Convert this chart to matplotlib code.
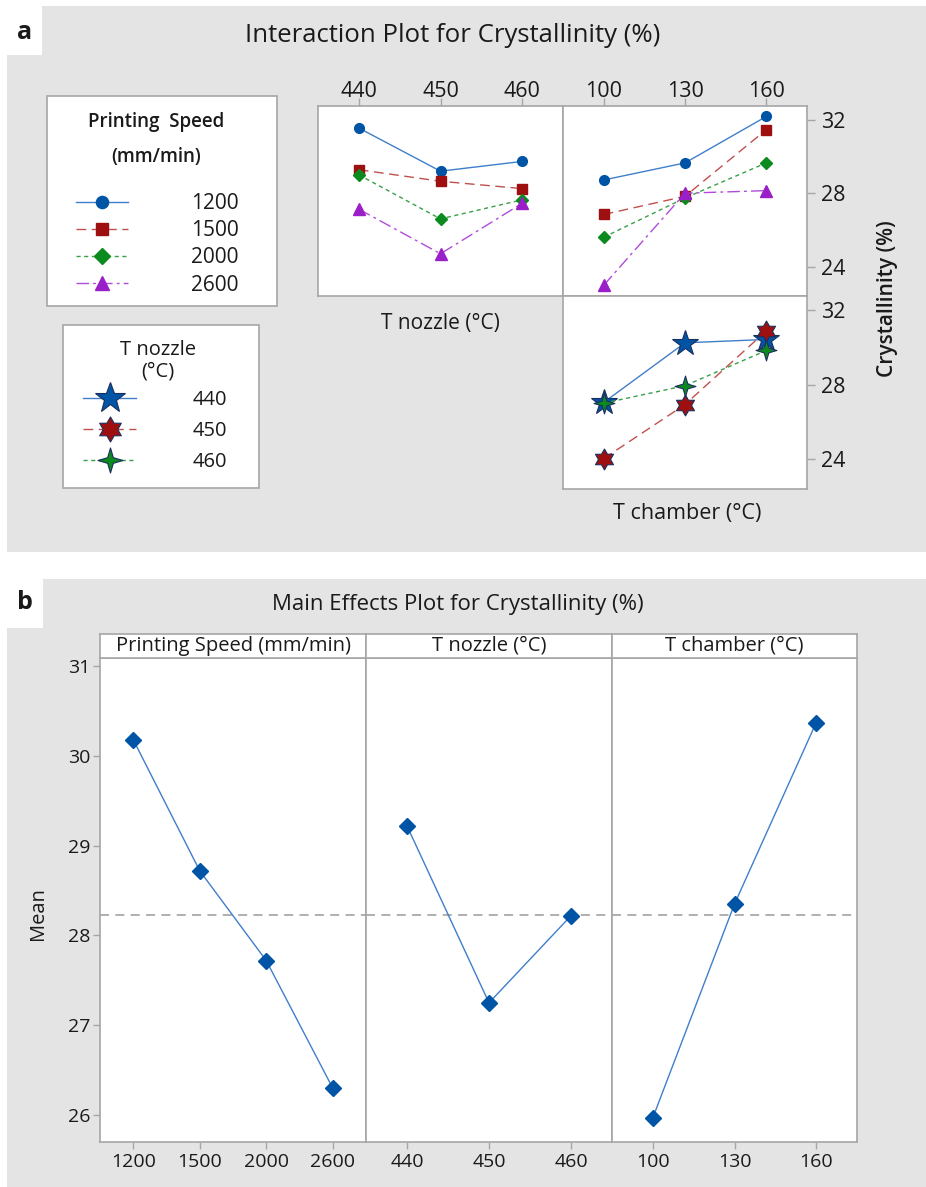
import matplotlib
matplotlib.use("Agg")
import matplotlib.pyplot as plt
from matplotlib.patches import Rectangle
from matplotlib.path import Path
import numpy as np

plt.rcParams['font.family'] = ['Open Sans', 'DejaVu Sans']

# ---- data -------------------------------------------------------------
speed_levels = ["1200", "1500", "2000", "2600"]
nozzle_levels = ["440", "450", "460"]
chamber_levels = ["100", "130", "160"]

# interaction: crystallinity (%) vs T nozzle, one series per printing speed
speed_vs_nozzle = [
    [31.55, 29.20, 29.73],   # 1200
    [29.28, 28.65, 28.25],   # 1500
    [29.00, 26.60, 27.64],   # 2000
    [27.13, 24.70, 27.45],   # 2600
]
# interaction: crystallinity (%) vs T chamber, one series per printing speed
speed_vs_chamber = [
    [28.72, 29.65, 32.18],
    [26.84, 27.83, 31.46],
    [25.60, 27.74, 29.65],
    [22.98, 28.00, 28.14],
]
# interaction: crystallinity (%) vs T chamber, one series per T nozzle
nozzle_vs_chamber = [
    [27.04, 30.24, 30.42],   # 440
    [24.03, 26.93, 30.88],   # 450
    [27.00, 27.94, 29.83],   # 460
]

# main effects (means)
mean_speed = [30.18, 28.72, 27.72, 26.30]
mean_nozzle = [29.22, 27.25, 28.22]
mean_chamber = [25.97, 28.35, 30.37]

# ---- styles -----------------------------------------------------------
W, H = 926, 1187
BG = "#e4e4e4"
SPINE = "#a6a6a6"
TXT = "#1a1a1a"

speed_styles = [
    dict(color="#3f7fca", mfc="#0054a6", mec="#0054a6", marker="o", ms=7, ls="-"),
    dict(color="#c0504d", mfc="#9e1010", mec="#9e1010", marker="s", ms=7, ls=(0, (7, 4))),
    dict(color="#38a048", mfc="#0b8a1e", mec="#0b8a1e", marker="D", ms=6.3, ls=(0, (3, 2.5))),
    dict(color="#b24bd8", mfc="#9a1fc8", mec="#9a1fc8", marker="^", ms=8, ls=(0, (9, 3, 2, 3))),
]
hexagram = Path.unit_regular_star(6, 0.58)
four_star = Path.unit_regular_star(4, 0.32)
nozzle_styles = [
    dict(color="#3f7fca", mfc="#0054a6", mec="#1b2f5e", marker="*", ms=19, ls="-"),
    dict(color="#c0504d", mfc="#9e1010", mec="#1b2f5e", marker=hexagram, ms=15, ls=(0, (7, 4))),
    dict(color="#38a048", mfc="#0b8a1e", mec="#1b2f5e", marker=four_star, ms=15, ls=(0, (3, 2.5))),
]

fig = plt.figure(figsize=(W / 100, H / 100), dpi=100)
fig.patch.set_facecolor("white")


def add_px_axes(x0, y0, x1, y1):
    return fig.add_axes([x0 / W, 1 - y1 / H, (x1 - x0) / W, (y1 - y0) / H])


def fx(x):
    return x / W


def fy(y):
    return 1 - y / H


def px_rect(x0, y0, x1, y1, **kw):
    r = Rectangle((fx(x0), fy(y1)), (x1 - x0) / W, (y1 - y0) / H,
                  transform=fig.transFigure, **kw)
    fig.add_artist(r)
    return r


def style_axes(ax, labelsize):
    ax.set_facecolor("white")
    for s in ax.spines.values():
        s.set_color(SPINE)
        s.set_linewidth(1.2)
    ax.tick_params(colors=SPINE, labelcolor=TXT, labelsize=labelsize, width=1.0,
                   length=5, pad=2)


# panel backgrounds
px_rect(7, 6, 926, 552, facecolor=BG, edgecolor="none", zorder=0)
px_rect(7, 579, 926, 1187, facecolor=BG, edgecolor="none", zorder=0)
px_rect(7, 6, 42, 55, facecolor="white", edgecolor="none", zorder=1)
px_rect(7, 579, 43, 628, facecolor="white", edgecolor="none", zorder=1)
fig.text(fx(24.5), fy(32.5), "a", fontsize=18, fontweight="bold", ha="center", va="center", color=TXT)
fig.text(fx(25), fy(603), "b", fontsize=18, fontweight="bold", ha="center", va="center", color=TXT)

# ---- panel a: interaction plot ----------------------------------------
fig.text(fx(453), fy(36), "Interaction Plot for Crystallinity (%)", fontsize=18.5,
         ha="center", va="center", color=TXT)

ylim_a = (22.4, 32.75)
ax_tl = add_px_axes(318, 106, 563, 296)
ax_tr = add_px_axes(563, 106, 807, 296)
ax_br = add_px_axes(563, 296, 807, 489)
for ax in (ax_tl, ax_tr, ax_br):
    style_axes(ax, 15.5)
    ax.set_xlim(-0.5, 2.5)
    ax.set_ylim(*ylim_a)
    ax.tick_params(axis="x", length=6, pad=-3)
    ax.tick_params(axis="y", length=6, pad=4)

x3 = np.arange(3)
speed_lines = []
for vals, st in zip(speed_vs_nozzle, speed_styles):
    ax_tl.plot(x3, vals, color=st["color"], ls=st["ls"], lw=1.0, marker=st["marker"],
               ms=st["ms"], mfc=st["mfc"], mec=st["mec"])
for vals, st in zip(speed_vs_chamber, speed_styles):
    ln, = ax_tr.plot(x3, vals, color=st["color"], ls=st["ls"], lw=1.0, marker=st["marker"],
                     ms=st["ms"], mfc=st["mfc"], mec=st["mec"])
    speed_lines.append(ln)
nozzle_lines = []
for vals, st in zip(nozzle_vs_chamber, nozzle_styles):
    ln, = ax_br.plot(x3, vals, color=st["color"], ls=st["ls"], lw=1.0, marker=st["marker"],
                     ms=st["ms"], mfc=st["mfc"], mec=st["mec"], mew=0.8)
    nozzle_lines.append(ln)

ax_tl.xaxis.tick_top()
ax_tl.set_xticks(x3, nozzle_levels)
ax_tl.set_yticks([])
ax_tr.xaxis.tick_top()
ax_tr.set_xticks(x3, chamber_levels)
ax_br.set_xticks([])
for ax in (ax_tr, ax_br):
    ax.yaxis.tick_right()
    ax.set_yticks([24, 28, 32])

fig.text(fx(440), fy(323), "T nozzle (°C)", fontsize=15, ha="center", va="center", color=TXT)
fig.text(fx(687), fy(513), "T chamber (°C)", fontsize=15.5, ha="center", va="center", color=TXT)
fig.text(fx(887), fy(299), "Crystallinity (%)", fontsize=15, fontweight="semibold",
         rotation=90, ha="center", va="center", color=TXT)

# legend: printing speed
px_rect(47, 96, 277, 306, facecolor="white", edgecolor=SPINE, lw=1.2, zorder=2)
fig.text(fx(156), fy(122), "Printing  Speed", fontsize=13.5, fontweight="semibold",
         ha="center", va="center", color=TXT, zorder=3)
fig.text(fx(156), fy(157), "(mm/min)", fontsize=13.5, fontweight="semibold",
         ha="center", va="center", color=TXT, zorder=3)
leg1 = fig.legend(speed_lines, speed_levels, loc="upper left",
                  bbox_to_anchor=(fx(76), fy(193)), frameon=False, fontsize=15,
                  handlelength=2.5, handletextpad=3.0, labelspacing=0.3,
                  borderpad=0, borderaxespad=0, markerscale=1.25)
for t in leg1.get_texts():
    t.set_color(TXT)
leg1.set_zorder(4)

# legend: T nozzle
px_rect(63, 325, 259, 488, facecolor="white", edgecolor=SPINE, lw=1.2, zorder=2)
fig.text(fx(158), fy(350), "T nozzle", fontsize=14.5, ha="center", va="center",
         color=TXT, zorder=3)
fig.text(fx(158), fy(372), "(°C)", fontsize=14.5, ha="center", va="center",
         color=TXT, zorder=3)
leg2 = fig.legend(nozzle_lines, nozzle_levels, loc="upper left",
                  bbox_to_anchor=(fx(83), fy(390)), frameon=False, fontsize=14.5,
                  handlelength=2.65, handletextpad=2.8, labelspacing=0.55,
                  borderpad=0, borderaxespad=0, markerscale=1.2)
for t in leg2.get_texts():
    t.set_color(TXT)
leg2.set_zorder(4)

# ---- panel b: main effects plot ---------------------------------------
fig.text(fx(458), fy(605), "Main Effects Plot for Crystallinity (%)", fontsize=16,
         ha="center", va="center", color=TXT)

ylim_b = (25.70, 31.09)
grand_mean = float(np.mean(mean_speed))
panels = [
    (100, 366, speed_levels, mean_speed, "Printing Speed (mm/min)"),
    (366, 612, nozzle_levels, mean_nozzle, "T nozzle (°C)"),
    (612, 857, chamber_levels, mean_chamber, "T chamber (°C)"),
]
for i, (x0, x1, levels, means, header) in enumerate(panels):
    ax = add_px_axes(x0, 658, x1, 1142)
    style_axes(ax, 14)
    n = len(levels)
    xs = np.arange(n)
    ax.set_xlim(-0.5, n - 0.5)
    ax.set_ylim(*ylim_b)
    ax.axhline(grand_mean, color="#a9a9a9", lw=1.3, ls=(0, (5, 3.5)), zorder=1)
    ax.plot(xs, means, color="#3f7fca", lw=1.0, marker="D", ms=8.5,
            mfc="#0054a6", mec="#0054a6", zorder=3)
    ax.set_xticks(xs, levels)
    ax.tick_params(axis="x", pad=3)
    if i == 0:
        ax.set_yticks([26, 27, 28, 29, 30, 31])
    else:
        ax.set_yticks([])
    hdr = add_px_axes(x0, 634, x1, 658)
    hdr.set_facecolor("white")
    hdr.set_xticks([])
    hdr.set_yticks([])
    for s in hdr.spines.values():
        s.set_color(SPINE)
        s.set_linewidth(1.2)
    hdr.text(0.5, 0.5, header, transform=hdr.transAxes, fontsize=14.5,
             ha="center", va="center", color=TXT)

fig.text(fx(38), fy(914), "Mean", fontsize=14.5, rotation=90, ha="center",
         va="center", color=TXT)

fig.savefig("out.png", dpi=100, facecolor=fig.get_facecolor())
